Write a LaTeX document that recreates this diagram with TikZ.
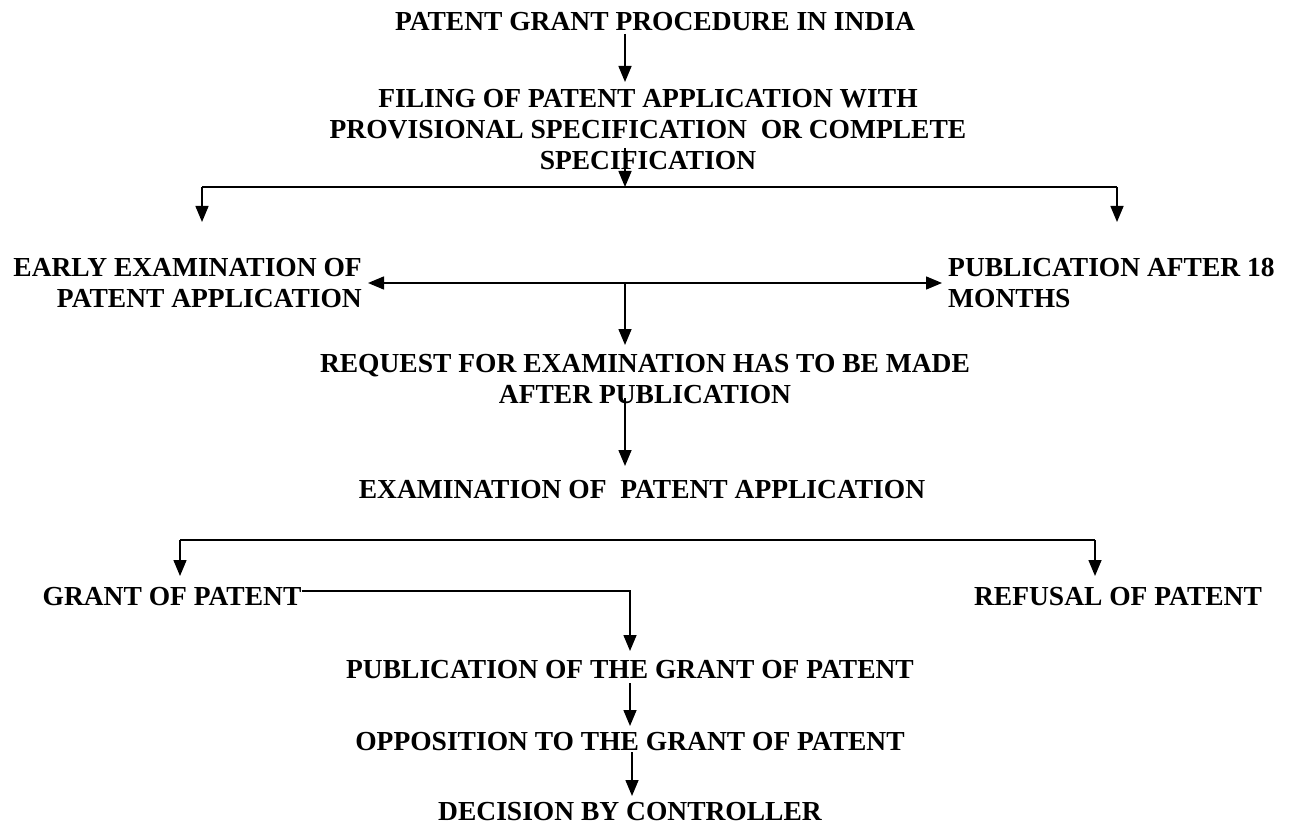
\documentclass[tikz,border=0pt]{standalone}
\usepackage{fontspec}
\setmainfont{Liberation Serif}
\usetikzlibrary{arrows.meta,calc}
\begin{document}
\begin{tikzpicture}[x=1pt,y=-1pt,
  lbl/.style={inner sep=0pt,font=\fontsize{27.5}{31}\selectfont\bfseries},
  conn/.style={line width=1.5pt},
  arr/.style={conn,-{Triangle[length=16pt,width=13pt]}},
  darr/.style={conn,{Triangle[length=16pt,width=13pt]}-{Triangle[length=16pt,width=13pt]}}]
\useasboundingbox (0,0) rectangle (1312,829);
\node[lbl] (title) at (655,22) {PATENT GRANT PROCEDURE IN INDIA};
\node[lbl,align=center] (filing) at (648,130) {FILING OF PATENT APPLICATION WITH\\PROVISIONAL SPECIFICATION \ OR COMPLETE\\SPECIFICATION};
\node[lbl,align=right,anchor=east] (early) at (362,283) {EARLY EXAMINATION OF\\PATENT APPLICATION};
\node[lbl,align=left,anchor=west] (pub) at (948,283) {PUBLICATION AFTER 18\\MONTHS};
\node[lbl,align=center] (request) at (645,379) {REQUEST FOR EXAMINATION HAS TO BE MADE\\AFTER PUBLICATION};
\node[lbl] (exam) at (642,490) {EXAMINATION OF \ PATENT APPLICATION};
\node[lbl] (grant) at (172,597) {GRANT OF PATENT};
\node[lbl] (refusal) at (1118,597) {REFUSAL OF PATENT};
\node[lbl] (pubgrant) at (630,670) {PUBLICATION OF THE GRANT OF PATENT};
\node[lbl] (oppo) at (630,742) {OPPOSITION TO THE GRANT OF PATENT};
\node[lbl] (decision) at (630,812) {DECISION BY CONTROLLER};
% junction coordinates
\coordinate (t0) at (625,34);
\coordinate (t1) at (625,82);
\coordinate (f0) at (625,148);
\coordinate (b1) at (625,187);
\coordinate (bl) at (202,187);
\coordinate (br) at (1117,187);
\coordinate (el) at (202,222);
\coordinate (er) at (1117,222);
\coordinate (m0) at (625,283);
\coordinate (m1) at (625,345);
\coordinate (r0) at (625,398);
\coordinate (r1) at (625,466);
\coordinate (gl) at (180,540);
\coordinate (gr) at (1095,540);
\coordinate (gl1) at (180,576);
\coordinate (gr1) at (1095,576);
\coordinate (g0) at (630,591);
\coordinate (g1) at (630,651);
\coordinate (p0) at (630,683);
\coordinate (p1) at (630,726);
\coordinate (o0) at (632,752);
\coordinate (o1) at (632,796);
% connectors
\draw[arr] (t0) -- (t1);
\draw[arr] (f0) -- (b1);
\draw[conn] (bl) -- (br);
\draw[arr] (bl) -- (el);
\draw[arr] (br) -- (er);
\draw[darr] ([xshift=6pt]early.east) -- ([xshift=-6pt]pub.west);
\draw[arr] (m0) -- (m1);
\draw[arr] (r0) -- (r1);
\draw[conn] (gl) -- (gr);
\draw[arr] (gl) -- (gl1);
\draw[arr] (gr) -- (gr1);
\draw[arr] (grant.east |- g0) -- (g0) -- (g1);
\draw[arr] (p0) -- (p1);
\draw[arr] (o0) -- (o1);
\end{tikzpicture}
\end{document}
